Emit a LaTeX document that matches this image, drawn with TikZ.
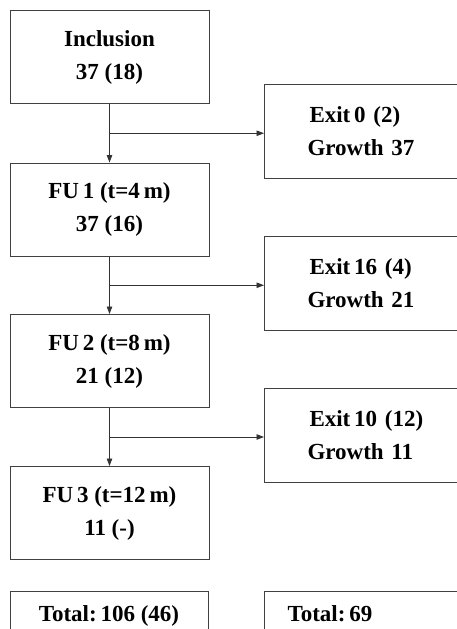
\documentclass[tikz,border=0pt]{standalone}
\usepackage{fontspec}
\setmainfont{Liberation Serif}
\usetikzlibrary{arrows.meta,calc}
\newcommand\diagfont{\bfseries\fontsize{23}{33}\selectfont\spaceskip=0.25em\relax}
\begin{document}
\begin{tikzpicture}[x=1pt,y=1pt,
  txt/.style={font=\diagfont},
  box/.style={txt, draw=black!75, line width=1pt, rectangle, inner sep=0pt,
    minimum width=199pt, minimum height=93pt, align=center},
  side/.style={txt, draw=black!75, line width=1pt, rectangle, anchor=west,
    minimum height=94pt, inner xsep=43pt, inner ysep=0pt, text width=180pt, align=left},
  totbox/.style={txt, draw=black!75, line width=1pt, rectangle,
    text height=30pt, text depth=50pt, inner ysep=0pt},
  arr/.style={draw=black!80, line width=0.9pt, -{Triangle[length=7.5pt,width=5.5pt]}}]
\useasboundingbox (0,0) rectangle (457,-629);
\clip (0,0) rectangle (457,-629);

\node[box] (incl) at (109.5,-57) {Inclusion\\37 (18)};
\node[box] (fu1) at (109.5,-209.5) {FU\,1 (t=4\,m)\\37 (16)};
\node[box] (fu2) at (109.5,-361) {FU\,2 (t=8\,m)\\21 (12)};
\node[box] (fu3) at (109.5,-513) {FU\,3 (t=12\,m)\\11 (-)};

\node[side] (ex1) at (264,-131) {\hspace*{2pt}Exit\,0 (2)\\Growth 37};
\node[side] (ex2) at (264,-283.5) {\hspace*{2pt}Exit\,16 (4)\\Growth 21};
\node[side] (ex3) at (264,-435.5) {\hspace*{2pt}Exit\,10 (12)\\Growth 11};

\node[totbox, minimum width=198pt, anchor=north] (tot1) at (109,-591) {Total:\,106 (46)};
\node[totbox, anchor=north west, inner xsep=23pt, text width=180pt, align=left] (tot2) at (264,-591) {Total:\,69};

\draw[arr] (incl.south) -- (fu1.north);
\draw[arr] (fu1.south) -- (fu2.north);
\draw[arr] (fu2.south) -- (fu3.north);
\coordinate (b1) at ($(incl.south)!0.5!(fu1.north)$);
\coordinate (b2) at ($(fu1.south)!0.5!(fu2.north)$);
\coordinate (b3) at ($(fu2.south)!0.5!(fu3.north)$);
\draw[arr] (b1) -- (b1 -| ex1.west);
\draw[arr] (b2) -- (b2 -| ex2.west);
\draw[arr] (b3) -- (b3 -| ex3.west);
\end{tikzpicture}
\end{document}
